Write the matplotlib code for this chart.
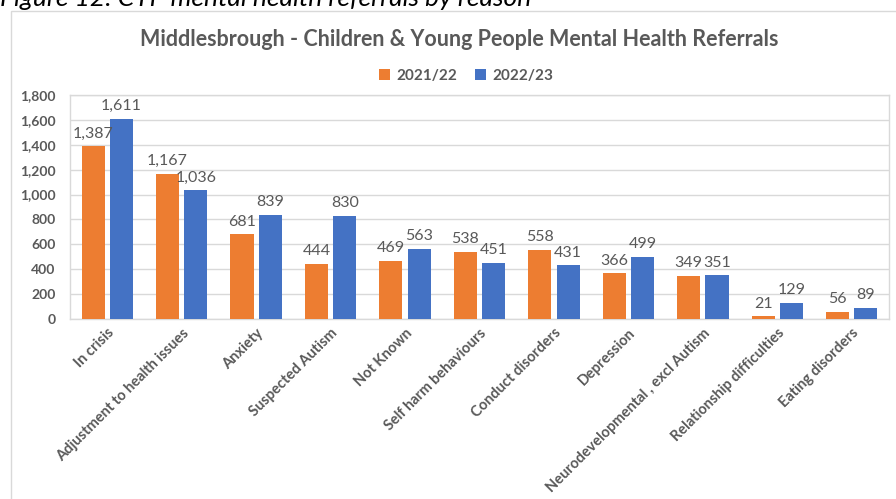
import matplotlib
matplotlib.use("Agg")
import matplotlib.pyplot as plt
import numpy as np
from matplotlib.patches import Rectangle
from matplotlib.ticker import FuncFormatter, MultipleLocator

categories = ["In crisis", "Adjustment to health issues", "Anxiety", "Suspected Autism",
              "Not Known", "Self harm behaviours", "Conduct disorders", "Depression",
              "Neurodevelopmental , excl Autism", "Relationship difficulties", "Eating disorders"]
y2122 = [1387, 1167, 681, 444, 469, 538, 558, 366, 349, 21, 56]
y2223 = [1611, 1036, 839, 830, 563, 451, 431, 499, 351, 129, 89]
series_names = ["2021/22", "2022/23"]

ORANGE = "#ED7D31"
BLUE = "#4472C4"
GRAY = "#595959"
GRID = "#D9D9D9"
FONT = ["Lato", "DejaVu Sans"]

plt.rcParams['font.family'] = FONT

W, H = 896, 499
fig = plt.figure(figsize=(W / 100, H / 100), dpi=100)

# Caption (partially clipped at top, as in the reference)
fig.text(0.0, 1 - 6 / H, "Figure 12: CYP mental health referrals by reason", fontsize=19,
         style="italic", color="#000000", va="baseline", ha="left")

# chart border
fig.patches.append(Rectangle((11 / W, -0.01), (W + 10) / W, 1 - 11 / H + 0.01,
                             transform=fig.transFigure, fill=False, edgecolor=GRID, lw=1.0))

ax = fig.add_axes([70 / W, 1 - 319 / H, (889 - 70) / W, (319 - 95) / H])

x = np.arange(len(categories))
bw = 0.31
off = 0.19
b1 = ax.bar(x - off, y2122, bw, color=ORANGE, label=series_names[0], zorder=3)
b2 = ax.bar(x + off, y2223, bw, color=BLUE, label=series_names[1], zorder=3)

for bars, vals in ((b1, y2122), (b2, y2223)):
    for r, v in zip(bars, vals):
        ax.annotate(f"{v:,}", (r.get_x() + r.get_width() / 2, v), xytext=(0, 4),
                    textcoords="offset points", ha="center", va="bottom",
                    fontsize=11.5, color=GRAY)

ax.set_ylim(0, 1800)
ax.set_xlim(-0.5, len(categories) - 0.5)
ax.yaxis.set_major_locator(MultipleLocator(200))
ax.yaxis.set_major_formatter(FuncFormatter(lambda v, p: f"{int(v):,}"))
ax.grid(axis="y", color=GRID, lw=1.0, zorder=0)
for s in ax.spines.values():
    s.set_color(GRID)
    s.set_linewidth(1.0)
ax.tick_params(axis="both", length=0, colors=GRAY, labelsize=10)
ax.tick_params(axis="y", pad=10.5)
for lab in ax.get_yticklabels():
    lab.set_fontweight("bold")

ax.set_xticks(x)
ax.set_xticklabels(categories, rotation=45, ha="right", va="top", rotation_mode="anchor",
                   fontweight="bold", fontsize=10.5, color=GRAY)
ax.tick_params(axis="x", pad=5)

fig.text(459 / W, 1 - 40 / H, "Middlesbrough - Children & Young People Mental Health Referrals",
         ha="center", va="center", fontsize=15.5, fontweight="bold", color=GRAY)

leg = fig.legend(handles=[b1, b2], labels=series_names, loc="center",
                 bbox_to_anchor=(466 / W, 1 - 76 / H), ncol=2, frameon=False,
                 handlelength=0.7, handleheight=0.7, handletextpad=0.4, columnspacing=1.2,
                 prop={"weight": "bold", "size": 11})
for t in leg.get_texts():
    t.set_color(GRAY)

fig.savefig("out.png", dpi=100)
